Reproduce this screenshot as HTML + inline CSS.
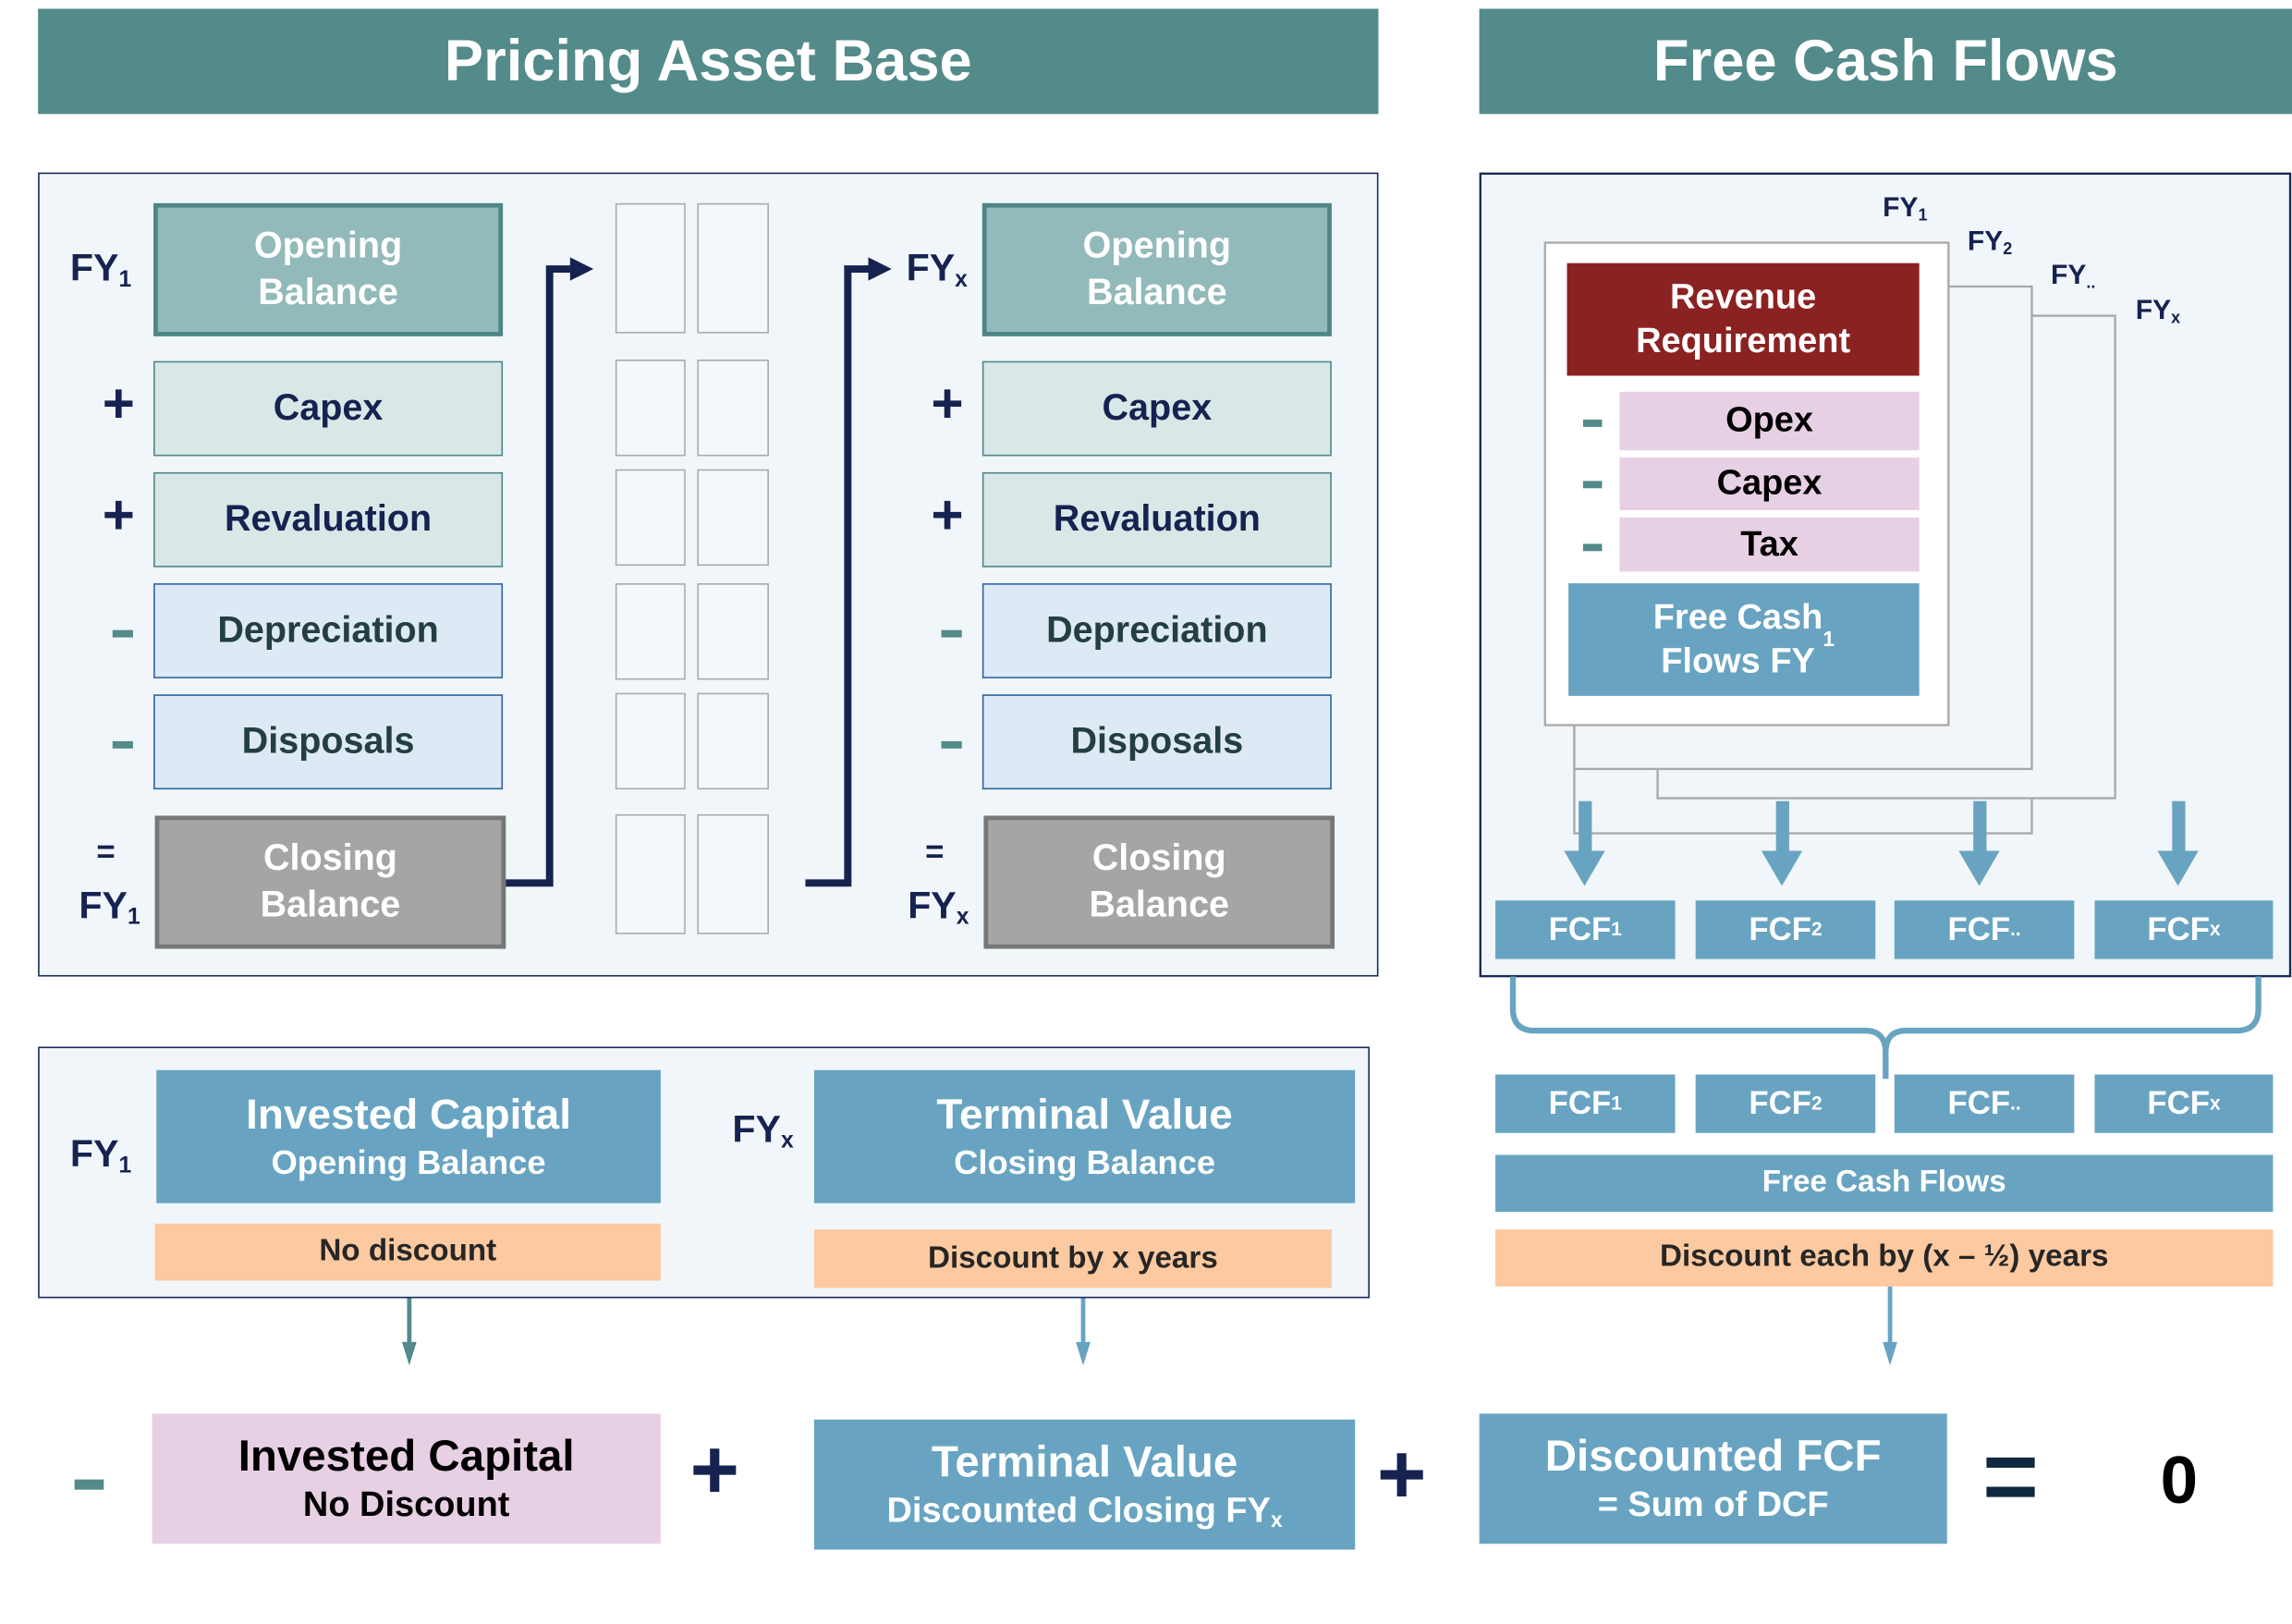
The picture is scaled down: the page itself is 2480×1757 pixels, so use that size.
<!DOCTYPE html>
<html><head><meta charset="utf-8"><style>
html,body{margin:0;padding:0;background:#fff;width:2480px;height:1756px;overflow:hidden}
#w{position:absolute;left:0;top:0;width:1568px;height:1111px;transform:scale(1.58163);transform-origin:0 0;font-family:"Liberation Sans",sans-serif;font-weight:bold}
.a{position:absolute;box-sizing:border-box;display:flex;align-items:center;justify-content:center;text-align:center;line-height:1.25}
.t{position:absolute;white-space:nowrap}
sub{font-size:0.6em;vertical-align:-0.25em;line-height:0}
.g{position:absolute;box-sizing:border-box;border:1.5px solid #aaa;background:#f4f8fa}
</style></head><body><div id="w">
<div class="a" style="left:26px;top:6px;width:917px;height:72px;background:#538a8a;color:#fff;font-size:40px">Pricing Asset Base</div>
<div class="a" style="left:1012px;top:6px;width:556px;height:72px;background:#538a8a;color:#fff;font-size:40px">Free Cash Flows</div>

<div style="position:absolute;left:26px;top:118px;width:917px;height:550px;box-sizing:border-box;background:#f0f6f9;border:1.5px solid #1a2a5a"></div>
<!-- left column -->
<div class="a" style="left:105px;top:139px;width:239px;height:91px;background:#93baba;border:3px solid #4e8585;color:#fff;font-size:25px">Opening<br>Balance</div>
<div class="a" style="left:105px;top:247px;width:239px;height:65px;background:#dae7e7;border:1.5px solid #4e8585;color:#162250;font-size:25px">Capex</div>
<div class="a" style="left:105px;top:323px;width:239px;height:65px;background:#dae7e7;border:1.5px solid #4e8585;color:#162250;font-size:25px">Revaluation</div>
<div class="a" style="left:105px;top:399px;width:239px;height:65px;background:#dde9f5;border:1.5px solid #2e62a0;color:#233f3f;font-size:25px">Depreciation</div>
<div class="a" style="left:105px;top:475px;width:239px;height:65px;background:#dde9f5;border:1.5px solid #2e62a0;color:#233f3f;font-size:25px">Disposals</div>
<div class="a" style="left:106px;top:558px;width:240px;height:91px;background:#a5a5a5;border:3px solid #777;color:#fff;font-size:25px">Closing<br>Balance</div>
<div class="t" style="left:48px;top:168px;font-size:26px;color:#162250">FY<sub>1</sub></div>
<div class="t" style="left:70px;top:256px;font-size:38px;color:#162250">+</div>
<div class="t" style="left:70px;top:332px;font-size:38px;color:#162250">+</div>
<div style="position:absolute;left:77px;top:431px;width:14px;height:5px;background:#538a8a"></div>
<div style="position:absolute;left:77px;top:507px;width:14px;height:5px;background:#538a8a"></div>
<div class="t" style="left:66px;top:570px;font-size:22px;color:#162250">=</div>
<div class="t" style="left:54px;top:604px;font-size:26px;color:#162250">FY<sub>1</sub></div>
<!-- right column -->
<div class="a" style="left:672px;top:139px;width:239px;height:91px;background:#93baba;border:3px solid #4e8585;color:#fff;font-size:25px">Opening<br>Balance</div>
<div class="a" style="left:672px;top:247px;width:239px;height:65px;background:#dae7e7;border:1.5px solid #4e8585;color:#162250;font-size:25px">Capex</div>
<div class="a" style="left:672px;top:323px;width:239px;height:65px;background:#dae7e7;border:1.5px solid #4e8585;color:#162250;font-size:25px">Revaluation</div>
<div class="a" style="left:672px;top:399px;width:239px;height:65px;background:#dde9f5;border:1.5px solid #2e62a0;color:#233f3f;font-size:25px">Depreciation</div>
<div class="a" style="left:672px;top:475px;width:239px;height:65px;background:#dde9f5;border:1.5px solid #2e62a0;color:#233f3f;font-size:25px">Disposals</div>
<div class="a" style="left:673px;top:558px;width:240px;height:91px;background:#a5a5a5;border:3px solid #777;color:#fff;font-size:25px">Closing<br>Balance</div>
<div class="t" style="left:620px;top:168px;font-size:26px;color:#162250">FY<sub>x</sub></div>
<div class="t" style="left:637px;top:256px;font-size:38px;color:#162250">+</div>
<div class="t" style="left:637px;top:332px;font-size:38px;color:#162250">+</div>
<div style="position:absolute;left:644px;top:431px;width:14px;height:5px;background:#538a8a"></div>
<div style="position:absolute;left:644px;top:507px;width:14px;height:5px;background:#538a8a"></div>
<div class="t" style="left:633px;top:570px;font-size:22px;color:#162250">=</div>
<div class="t" style="left:621px;top:604px;font-size:26px;color:#162250">FY<sub>x</sub></div>
<!-- grey boxes -->
<div class="g" style="left:421px;top:139px;width:48px;height:89px"></div><div class="g" style="left:477px;top:139px;width:49px;height:89px"></div>
<div class="g" style="left:421px;top:246px;width:48px;height:66px"></div><div class="g" style="left:477px;top:246px;width:49px;height:66px"></div>
<div class="g" style="left:421px;top:321px;width:48px;height:66px"></div><div class="g" style="left:477px;top:321px;width:49px;height:66px"></div>
<div class="g" style="left:421px;top:399px;width:48px;height:66px"></div><div class="g" style="left:477px;top:399px;width:49px;height:66px"></div>
<div class="g" style="left:421px;top:474px;width:48px;height:66px"></div><div class="g" style="left:477px;top:474px;width:49px;height:66px"></div>
<div class="g" style="left:421px;top:557px;width:48px;height:82px"></div><div class="g" style="left:477px;top:557px;width:49px;height:82px"></div>

<svg style="position:absolute;left:0;top:0" width="1568" height="1111">
<polyline points="346,604 376,604 376,184 392,184" fill="none" stroke="#162250" stroke-width="5"/>
<polygon points="390,176 406,184 390,192" fill="#162250"/>
<polyline points="551,604 580,604 580,184 596,184" fill="none" stroke="#162250" stroke-width="5"/>
<polygon points="594,176 610,184 594,192" fill="#162250"/>
<!-- right panel -->
<rect x="1012.75" y="118.75" width="554" height="549" fill="#f0f6f9" stroke="#1a2a5a" stroke-width="1.5"/>
<rect x="1134" y="216" width="313" height="330" fill="none" stroke="#aaa" stroke-width="1.5"/>
<polyline points="1077,496 1077,570 1390,570 1390,546" fill="none" stroke="#aaa" stroke-width="1.5"/>
<rect x="1077" y="196" width="313" height="330" fill="#f0f6f9" stroke="#aaa" stroke-width="1.5"/>
<rect x="1057" y="166" width="276" height="330" fill="#fff" stroke="#aaa" stroke-width="1.5"/>
<g fill="#68a4c1">
<rect x="1080" y="548" width="9" height="36"/><polygon points="1070,582 1098,582 1084,606"/>
<rect x="1215" y="548" width="9" height="36"/><polygon points="1205,582 1233,582 1219,606"/>
<rect x="1350" y="548" width="9" height="36"/><polygon points="1340,582 1368,582 1354,606"/>
<rect x="1486" y="548" width="9" height="36"/><polygon points="1476,582 1504,582 1490,606"/>
</g>
<path d="M1035,668 L1035,690 Q1035,705 1050,705 L1276,705 Q1290,705 1290,720 L1290,738 M1290,720 Q1290,705 1304,705 L1530,705 Q1545,705 1545,690 L1545,668" fill="none" stroke="#68a4c1" stroke-width="4"/>
<line x1="1293" y1="880" x2="1293" y2="922" stroke="#68a4c1" stroke-width="3"/><polygon points="1288,918 1298,918 1293,934" fill="#68a4c1"/>
<line x1="280" y1="888" x2="280" y2="922" stroke="#538a8a" stroke-width="3"/><polygon points="275,918 285,918 280,934" fill="#538a8a"/>
<line x1="741" y1="888" x2="741" y2="922" stroke="#68a4c1" stroke-width="3"/><polygon points="736,918 746,918 741,934" fill="#68a4c1"/>
</svg>
<div class="t" style="left:1288px;top:132px;font-size:19px;color:#162250">FY<sub>1</sub></div>
<div class="t" style="left:1346px;top:155px;font-size:19px;color:#162250">FY<sub>2</sub></div>
<div class="t" style="left:1403px;top:178px;font-size:19px;color:#162250">FY<sub>..</sub></div>
<div class="t" style="left:1461px;top:202px;font-size:19px;color:#162250">FY<sub>x</sub></div>
<div class="a" style="left:1072px;top:180px;width:241px;height:77px;background:#8b2222;color:#fff;font-size:24px">Revenue<br>Requirement</div>
<div class="a" style="left:1108px;top:268px;width:205px;height:40px;background:#e8d0e4;color:#000;font-size:24px">Opex</div>
<div class="a" style="left:1108px;top:313px;width:205px;height:36px;background:#e8d0e4;color:#000;font-size:24px">Capex</div>
<div class="a" style="left:1108px;top:354px;width:205px;height:37px;background:#e8d0e4;color:#000;font-size:24px">Tax</div>
<div style="position:absolute;left:1083px;top:287px;width:13px;height:5px;background:#538a8a"></div>
<div style="position:absolute;left:1083px;top:329px;width:13px;height:5px;background:#538a8a"></div>
<div style="position:absolute;left:1083px;top:372px;width:13px;height:5px;background:#538a8a"></div>
<div class="a" style="left:1073px;top:399px;width:240px;height:77px;background:#68a4c1;color:#fff;font-size:24px">Free Cash<br>Flows FY<sub>1</sub></div>
<div class="a" style="left:1023px;top:616px;width:123px;height:40px;background:#68a4c1;color:#fff;font-size:22px">FCF<sub>1</sub></div>
<div class="a" style="left:1160px;top:616px;width:123px;height:40px;background:#68a4c1;color:#fff;font-size:22px">FCF<sub>2</sub></div>
<div class="a" style="left:1296px;top:616px;width:123px;height:40px;background:#68a4c1;color:#fff;font-size:22px">FCF<sub>..</sub></div>
<div class="a" style="left:1433px;top:616px;width:122px;height:40px;background:#68a4c1;color:#fff;font-size:22px">FCF<sub>x</sub></div>
<div class="a" style="left:1023px;top:735px;width:123px;height:40px;background:#68a4c1;color:#fff;font-size:22px">FCF<sub>1</sub></div>
<div class="a" style="left:1160px;top:735px;width:123px;height:40px;background:#68a4c1;color:#fff;font-size:22px">FCF<sub>2</sub></div>
<div class="a" style="left:1296px;top:735px;width:123px;height:40px;background:#68a4c1;color:#fff;font-size:22px">FCF<sub>..</sub></div>
<div class="a" style="left:1433px;top:735px;width:122px;height:40px;background:#68a4c1;color:#fff;font-size:22px">FCF<sub>x</sub></div>
<div class="a" style="left:1023px;top:790px;width:532px;height:39px;background:#68a4c1;color:#fff;font-size:21px">Free Cash Flows</div>
<div class="a" style="left:1023px;top:841px;width:532px;height:39px;background:#fcc9a0;color:#262626;font-size:21px">Discount each by (x – ½) years</div>

<!-- bottom left panel -->
<div style="position:absolute;left:26px;top:716px;width:911px;height:172px;box-sizing:border-box;background:#f0f6f9;border:1.5px solid #1a2a5a"></div>
<div class="a" style="left:107px;top:732px;width:345px;height:91px;background:#68a4c1;color:#fff;font-size:29px;flex-direction:column">Invested Capital<span style="font-size:23px">Opening Balance</span></div>
<div class="a" style="left:106px;top:837px;width:346px;height:39px;background:#fcc9a0;color:#262626;font-size:21px">No discount</div>
<div class="t" style="left:48px;top:774px;font-size:26px;color:#162250">FY<sub>1</sub></div>
<div class="t" style="left:501px;top:757px;font-size:26px;color:#162250">FY<sub>x</sub></div>
<div class="a" style="left:557px;top:732px;width:370px;height:91px;background:#68a4c1;color:#fff;font-size:29px;flex-direction:column">Terminal Value<span style="font-size:23px">Closing Balance</span></div>
<div class="a" style="left:557px;top:841px;width:354px;height:40px;background:#fcc9a0;color:#262626;font-size:21px">Discount by x years</div>

<!-- bottom row -->
<div style="position:absolute;left:51px;top:1012px;width:20px;height:7px;background:#538a8a"></div>
<div class="a" style="left:104px;top:967px;width:348px;height:89px;background:#e8d0e4;color:#000;font-size:30px;flex-direction:column">Invested Capital<span style="font-size:24px">No Discount</span></div>
<div class="t" style="left:472px;top:972px;font-size:58px;color:#162250">+</div>
<div class="a" style="left:557px;top:971px;width:370px;height:89px;background:#68a4c1;color:#fff;font-size:30px;flex-direction:column">Terminal Value<span style="font-size:24px">Discounted Closing FY<sub>x</sub></span></div>
<div class="t" style="left:942px;top:975px;font-size:58px;color:#162250">+</div>
<div class="a" style="left:1012px;top:967px;width:320px;height:89px;background:#68a4c1;color:#fff;font-size:30px;flex-direction:column">Discounted FCF<span style="font-size:24px">= Sum of DCF</span></div>
<div style="position:absolute;left:1359px;top:997px;width:33px;height:7px;background:#0f2a40"></div>
<div style="position:absolute;left:1359px;top:1017px;width:33px;height:7px;background:#0f2a40"></div>
<div class="t" style="left:1478px;top:985px;font-size:46px;color:#000">0</div>
</div></body></html>
